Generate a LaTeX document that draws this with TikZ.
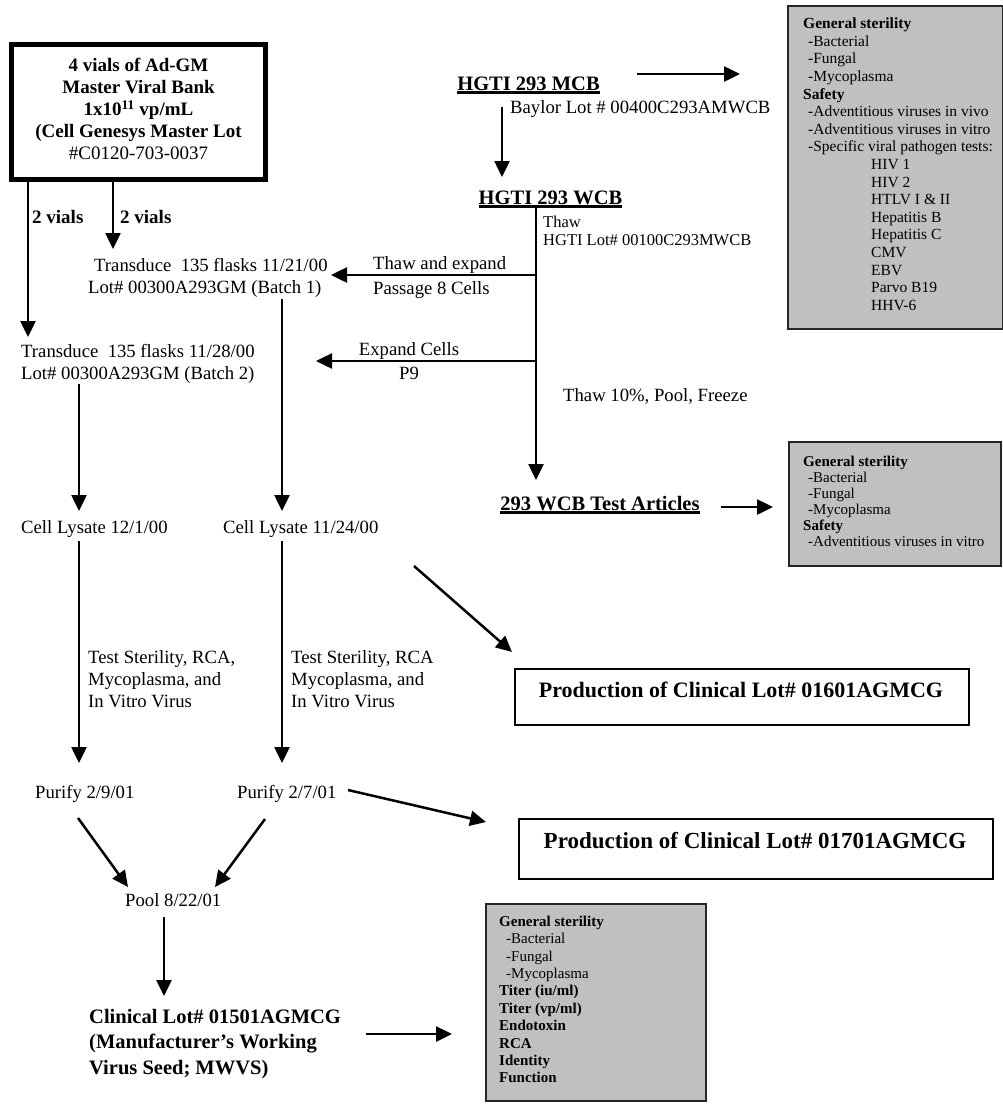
\documentclass[tikz,border=0pt]{standalone}
\usepackage{fontspec}
\setmainfont{Liberation Serif}
\usetikzlibrary{arrows.meta}
\definecolor{boxgray}{RGB}{192,192,192}
\begin{document}
\begin{tikzpicture}[x=1pt,y=-1pt,
  body/.style={font=\fontsize{18.7}{22}\selectfont, inner sep=0pt, align=left},
  bodyb/.style={font=\fontsize{19}{22}\selectfont\bfseries, inner sep=0pt},
  small/.style={font=\fontsize{16.5}{18.5}\selectfont, inner sep=0pt},
  head/.style={font=\fontsize{20.5}{24}\selectfont\bfseries, inner sep=0pt, anchor=base},
  uline/.style={line width=2.2pt},
  conn/.style={line width=2.5pt, -{Triangle[length=16pt,width=15pt]}},
  graybox/.style={draw=black!85, fill=boxgray, line width=2.4pt, anchor=north west, inner sep=0pt},
  glist/.style={inner sep=0pt, align=left, anchor=north west},
  prodbox/.style={draw, line width=2pt, anchor=north west, inner sep=0pt},
  masterbox/.style={draw, line width=5pt, minimum width=254pt, minimum height=135pt, inner sep=0pt}
]
\useasboundingbox (0,0) rectangle (1003,1106);
\fill[white] (0,0) rectangle (1003,1106);

% ---- master viral bank
\node[masterbox] (master) at (138.5,112) {};
\node[font=\fontsize{19}{22}\selectfont\bfseries, align=center, inner sep=0pt] (mastertxt) at (138.5,109)
  {4 vials of Ad-GM\\Master Viral Bank\\1x10\textsuperscript{11} vp/mL\\(Cell Genesys Master Lot\\{\mdseries\#C0120-703-0037}};
\node[bodyb, anchor=base west] (v1) at (32,223) {2 vials};
\node[bodyb, anchor=base west] (v2) at (120,223) {2 vials};

% ---- batches
\node[body, anchor=north west] (b1) at (94,258) {Transduce\ \ 135 flasks 11/21/00\\\hspace*{-6pt}Lot\# 00300A293GM (Batch 1)};
\node[body, anchor=north west] (b2) at (21,344) {Transduce\ \ 135 flasks 11/28/00\\Lot\# 00300A293GM (Batch 2)};
\node[body, anchor=north west] (thawlbl) at (373,256) {Thaw and expand\\[3pt]Passage 8 Cells};
\node[body, align=center, anchor=north] (explbl) at (409,342) {Expand Cells\\[2pt]P9};

% ---- cell banks
\node[head] (mcb) at (528.5,90) {HGTI 293 MCB};
\draw[uline] ([yshift=-2.5pt]mcb.base west) -- ([yshift=-2.5pt]mcb.base east);
\node[body, anchor=base west] (baylor) at (510,113) {Baylor Lot \# 00400C293AMWCB};
\node[head] (wcb) at (550.5,204) {HGTI 293 WCB};
\draw[uline] ([yshift=-2.5pt]wcb.base west) -- ([yshift=-2.5pt]wcb.base east);
\node[small, anchor=base west] (thaw) at (543,227.5) {Thaw};
\node[small, anchor=base west] (hgtilot) at (543,245.5) {HGTI Lot\# 00100C293MWCB};
\node[body, anchor=base west] (pool10) at (563,401) {Thaw 10\%, Pool, Freeze};
\node[head] (wcbta) at (600,510) {293 WCB Test Articles};
\draw[uline] ([yshift=-2.5pt]wcbta.base west) -- ([yshift=-2.5pt]wcbta.base east);

% ---- gray test boxes
\node[graybox, minimum width=215pt, minimum height=323pt] (g1) at (787,5) {};
\node[glist, font=\fontsize{15.5}{17.6}\selectfont] (g1t) at (803,17.7) {%
\textbf{General sterility}\\
\hspace*{5pt}-Bacterial\\
\hspace*{5pt}-Fungal\\
\hspace*{5pt}-Mycoplasma\\
\textbf{Safety}\\
\hspace*{5pt}-Adventitious viruses in vivo\\
\hspace*{5pt}-Adventitious viruses in vitro\\
\hspace*{5pt}-Specific viral pathogen tests:\\
\hspace*{68pt}HIV 1\\
\hspace*{68pt}HIV 2\\
\hspace*{68pt}HTLV I \& II\\
\hspace*{68pt}Hepatitis B\\
\hspace*{68pt}Hepatitis C\\
\hspace*{68pt}CMV\\
\hspace*{68pt}EBV\\
\hspace*{68pt}Parvo B19\\
\hspace*{68pt}HHV-6};

\node[graybox, minimum width=212pt, minimum height=124pt] (g2) at (788,441) {};
\node[glist, font=\fontsize{15}{16}\selectfont] (g2t) at (803,455.7) {%
\textbf{General sterility}\\
\hspace*{5pt}-Bacterial\\
\hspace*{5pt}-Fungal\\
\hspace*{5pt}-Mycoplasma\\
\textbf{Safety}\\
\hspace*{5pt}-Adventitious viruses in vitro};

\node[graybox, minimum width=220pt, minimum height=197pt] (g3) at (485,903) {};
\node[glist, font=\fontsize{15}{17.4}\selectfont] (g3t) at (499,915.7) {%
\textbf{General sterility}\\
\hspace*{7pt}-Bacterial\\
\hspace*{7pt}-Fungal\\
\hspace*{7pt}-Mycoplasma\\
\textbf{Titer (iu/ml)}\\
\textbf{Titer (vp/ml)}\\
\textbf{Endotoxin}\\
\textbf{RCA}\\
\textbf{Identity}\\
\textbf{Function}};

% ---- lysates, tests, purify
\node[body, anchor=base west] (lysA) at (21,533) {Cell Lysate 12/1/00};
\node[body, anchor=base west] (lysB) at (223,533) {Cell Lysate 11/24/00};
\node[body, anchor=north west] (testA) at (88,650) {Test Sterility, RCA,\\Mycoplasma, and\\In Vitro Virus};
\node[body, anchor=north west] (testB) at (291,650) {Test Sterility, RCA\\Mycoplasma, and\\In Vitro Virus};
\node[body, anchor=base west] (purA) at (35,798) {Purify 2/9/01};
\node[body, anchor=base west] (purB) at (237,798) {Purify 2/7/01};
\node[body, anchor=base west] (pool) at (125,906) {Pool 8/22/01};
\node[font=\fontsize{20.5}{25.5}\selectfont\bfseries, glist] (clin) at (89,1009)
  {Clinical Lot\# 01501AGMCG\\(Manufacturer’s Working\\Virus Seed; MWVS)};

% ---- production boxes
\node[prodbox, minimum width=454pt, minimum height=56pt] (p1box) at (514,668) {};
\node[font=\fontsize{22}{26}\selectfont\bfseries, inner sep=0pt, anchor=base] (p1) at (741,697) {Production of Clinical Lot\# 01601AGMCG};
\node[prodbox, minimum width=474pt, minimum height=60pt] (p2box) at (518,818) {};
\node[font=\fontsize{23}{27}\selectfont\bfseries, inner sep=0pt, anchor=base] (p2) at (755,848) {Production of Clinical Lot\# 01701AGMCG};

% ---- connector end points
\coordinate (cA1) at (28,182);   \coordinate (cA2) at (28,337);
\coordinate (cB1) at (113,182);  \coordinate (cB2) at (113,249);
\coordinate (mcb1) at (502,107); \coordinate (mcb2) at (502,177);
\coordinate (r1a) at (637,74);   \coordinate (r1b) at (740,74);
\coordinate (w1) at (536,206);   \coordinate (w2) at (536,480);
\coordinate (t1a) at (536,275);  \coordinate (t1b) at (331,275);
\coordinate (t2a) at (536,361);  \coordinate (t2b) at (316,361);
\coordinate (ta1) at (721,507);  \coordinate (ta2) at (773,507);
\coordinate (kB1) at (282,299);  \coordinate (kB2) at (282,511);
\coordinate (kA1) at (79,384);   \coordinate (kA2) at (79,511);
\coordinate (kA3) at (79,541);   \coordinate (kA4) at (79,763);
\coordinate (kB3) at (282,541);  \coordinate (kB4) at (282,763);
\coordinate (d1a) at (414,566);  \coordinate (d1b) at (512,652);
\coordinate (d2a) at (348,790);  \coordinate (d2b) at (486,822);
\coordinate (d3a) at (78,818);   \coordinate (d3b) at (128,887);
\coordinate (d4a) at (265,819);  \coordinate (d4b) at (215,887);
\coordinate (pl1) at (164,917);  \coordinate (pl2) at (164,996);
\coordinate (cl1) at (366,1034); \coordinate (cl2) at (452,1034);

\draw[conn] (cA1) -- (cA2);
\draw[conn] (cB1) -- (cB2);
\draw[conn] (mcb1) -- (mcb2);
\draw[conn] (r1a) -- (r1b);
\draw[conn] (w1) -- (w2);
\draw[conn] (t1a) -- (t1b);
\draw[conn] (t2a) -- (t2b);
\draw[conn] (ta1) -- (ta2);
\draw[conn] (kB1) -- (kB2);
\draw[conn] (kA1) -- (kA2);
\draw[conn] (kA3) -- (kA4);
\draw[conn] (kB3) -- (kB4);
\draw[conn] (d1a) -- (d1b);
\draw[conn] (d2a) -- (d2b);
\draw[conn] (d3a) -- (d3b);
\draw[conn] (d4a) -- (d4b);
\draw[conn] (pl1) -- (pl2);
\draw[conn] (cl1) -- (cl2);
\end{tikzpicture}
\end{document}
